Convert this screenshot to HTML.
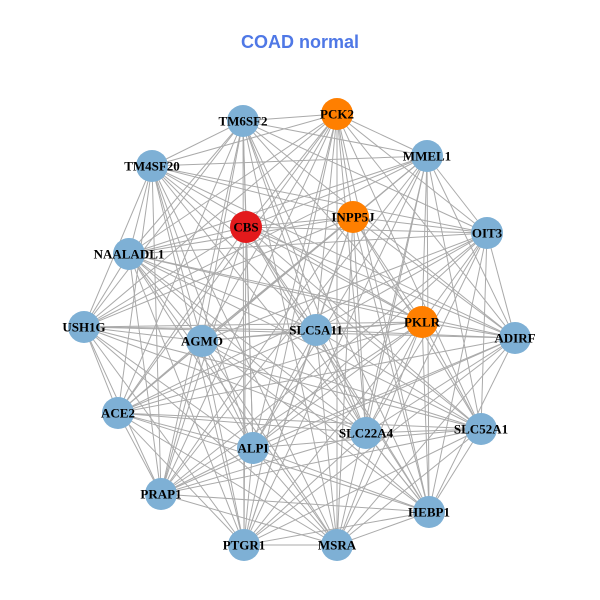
<!DOCTYPE html>
<html><head><meta charset="utf-8"><style>
html,body{margin:0;padding:0;background:#fff;}
svg{display:block;}
text.l{font-family:"Liberation Serif",serif;font-weight:bold;font-size:13px;fill:#000;text-anchor:middle;dominant-baseline:central;}
</style></head><body>
<svg id="g" width="600" height="600" xmlns="http://www.w3.org/2000/svg">
<rect width="600" height="600" fill="#fff"/>
<text x="300" y="48" text-anchor="middle" font-family="Liberation Sans, sans-serif" font-weight="bold" font-size="18" fill="#4f78e6">COAD normal</text>
<g id="e" stroke="#aaaaaa" stroke-width="1"></g>
<g id="n"></g>
</svg>
<script>
var N=[["PCK2",337,114,"#ff7f00"],["TM6SF2",243,121],["MMEL1",427,156],["TM4SF20",152,166],["CBS",246,227,"#e31a1c"],["INPP5J",353,217,"#ff7f00"],["OIT3",487,233],["NAALADL1",129,254],["USH1G",84,327],["AGMO",202,341],["SLC5A11",316,330],["PKLR",422,322,"#ff7f00"],["ADIRF",515,338],["ACE2",118,413],["ALPI",253,448],["SLC22A4",366,433],["SLC52A1",481,429],["PRAP1",161,494],["HEBP1",429,512],["PTGR1",244,545],["MSRA",337,545]];
var ns="http://www.w3.org/2000/svg",E=document.getElementById("e"),G=document.getElementById("n");
for(var i=0;i<N.length;i++)for(var j=i+1;j<N.length;j++){if((i*7+j*3)%11==0)continue;var l=document.createElementNS(ns,"line");l.setAttribute("x1",N[i][1]);l.setAttribute("y1",N[i][2]);l.setAttribute("x2",N[j][1]);l.setAttribute("y2",N[j][2]);E.appendChild(l);}
N.forEach(function(d){var c=document.createElementNS(ns,"circle");c.setAttribute("cx",d[1]);c.setAttribute("cy",d[2]);c.setAttribute("r",16);c.setAttribute("fill",d[3]||"#7eb0d5");G.appendChild(c);});
N.forEach(function(d){var t=document.createElementNS(ns,"text");t.setAttribute("x",d[1]);t.setAttribute("y",d[2]);t.setAttribute("class","l");t.textContent=d[0];G.appendChild(t);});
</script>
</body></html>
